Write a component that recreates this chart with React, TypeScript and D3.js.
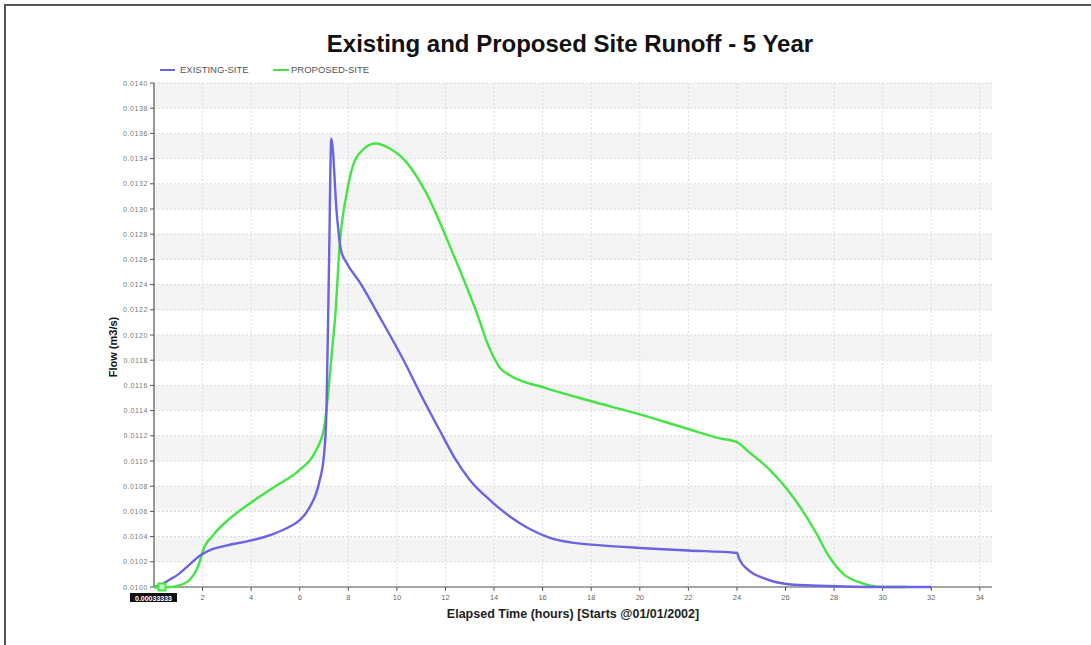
import React from "react";
import * as d3 from "d3";

// Hydrograph: elapsed hours vs flow (m3/s)
const existingHours = [0, 0.2, 0.66, 1.0, 1.36, 1.9, 2.4, 3.0, 4.0, 4.9, 5.6, 6.0, 6.4, 6.8, 7.0, 7.1, 7.2, 7.3, 7.53, 7.7, 7.94, 8.5, 9.3, 9.71, 10.33, 10.95, 11.77, 12.39, 13.0, 13.83, 14.65, 15.47, 16.3, 17.3, 18.4, 20, 22, 24, 24.1, 24.5, 25.1, 26.2, 27.4, 30, 32];
const existingFlow = [0.01, 0.01001, 0.01006, 0.0101, 0.01016, 0.01025, 0.0103, 0.01033, 0.01037, 0.01042, 0.01048, 0.01053, 0.01063, 0.01083, 0.01105, 0.0114, 0.0125, 0.01356, 0.01295, 0.01267, 0.01257, 0.01241, 0.01214, 0.012, 0.01178, 0.01154, 0.01124, 0.01102, 0.01085, 0.01069, 0.01056, 0.01046, 0.01039, 0.01035, 0.01033, 0.01031, 0.01029, 0.01027, 0.01022, 0.01013, 0.01007, 0.01002, 0.01001, 0.01, 0.01];

const proposedHours = [0, 0.7, 1.0, 1.48, 1.9, 2.0, 2.43, 3.1, 4.0, 5.0, 6.0, 6.6, 7.0, 7.16, 7.37, 7.45, 7.65, 7.94, 8.2, 8.6, 9.1, 9.71, 10.4, 11.2, 12.3, 13.3, 13.8, 14.24, 14.65, 16.1, 17.9, 20, 22.06, 23.3, 24, 24.5, 25.35, 26.4, 27.2, 27.8, 28.4, 29, 30, 31];
const proposedFlow = [0.01, 0.01, 0.01001, 0.01006, 0.01021, 0.01028, 0.01041, 0.01054, 0.01067, 0.01080, 0.01093, 0.01106, 0.01126, 0.01152, 0.01196, 0.01212, 0.01273, 0.01313, 0.01335, 0.01347, 0.01352, 0.01348, 0.01337, 0.01313, 0.01265, 0.01217, 0.0119, 0.01174, 0.01168, 0.01158, 0.01148, 0.01137, 0.01125, 0.01118, 0.01115, 0.01107, 0.01093, 0.01069, 0.01045, 0.01024, 0.0101, 0.01004, 0.01, 0.01];

const xTicks = [2, 4, 6, 8, 10, 12, 14, 16, 18, 20, 22, 24, 26, 28, 30, 32, 34];
const yTicks = [0.01, 0.0102, 0.0104, 0.0106, 0.0108, 0.011, 0.0112, 0.0114, 0.0116, 0.0118, 0.012, 0.0122, 0.0124, 0.0126, 0.0128, 0.013, 0.0132, 0.0134, 0.0136, 0.0138, 0.014];

const seriesNames = ["EXISTING-SITE", "PROPOSED-SITE"];
const seriesColors = ["#6b63e2", "#45e445"];

const W = 1091;
const H = 645;

export default function App() {
  const x = d3.scaleLinear().domain([0, 34.5]).range([154, 992]);
  const y = d3.scaleLinear().domain([0.01, 0.014]).range([587, 83]);

  const line = d3
    .line<[number, number]>()
    .x((d) => x(d[0]))
    .y((d) => y(d[1]))
    .curve(d3.curveMonotoneX);

  const existing = existingHours.map((h, i) => [h, existingFlow[i]] as [number, number]);
  const proposed = proposedHours.map((h, i) => [h, proposedFlow[i]] as [number, number]);

  const [x0, x1] = x.range();
  const font = "'Liberation Sans', Arial, sans-serif";

  return (
    <svg
      width={W}
      height={H}
      style={{ position: "absolute", left: 0, top: 0, background: "#fff" }}
      fontFamily={font}
    >
      <rect x={5} y={5} width={W + 20} height={H + 20} fill="none" stroke="#555" strokeWidth={2} />

      <text x={570} y={52} textAnchor="middle" fontSize={24} fontWeight="bold" fill="#111">
        Existing and Proposed Site Runoff - 5 Year
      </text>

      {/* alternating bands */}
      {yTicks.slice(0, -1).map((v, i) =>
        i % 2 === 1 ? (
          <rect key={"b" + i} x={x0} width={x1 - x0} y={y(yTicks[i + 1])} height={y(v) - y(yTicks[i + 1])} fill="#f4f4f4" />
        ) : null
      )}

      {/* grid */}
      {yTicks.map((v) => (
        <line key={"gy" + v} x1={x0} x2={x1} y1={y(v)} y2={y(v)} stroke="#dcdcdc" strokeWidth={1} strokeDasharray="2,2" />
      ))}
      {xTicks.map((t) => (
        <line key={"gx" + t} x1={x(t)} x2={x(t)} y1={y(0.014)} y2={y(0.01)} stroke="#dcdcdc" strokeWidth={1} strokeDasharray="2,2" />
      ))}

      {/* axes */}
      <line x1={x0} x2={x0} y1={y(0.014)} y2={y(0.01)} stroke="#555" strokeWidth={1.2} />
      <line x1={x0} x2={x1} y1={y(0.01)} y2={y(0.01)} stroke="#555" strokeWidth={1.2} />
      {yTicks.map((v) => (
        <g key={"ty" + v}>
          <line x1={x0 - 4} x2={x0} y1={y(v)} y2={y(v)} stroke="#555" />
          <text x={x0 - 6} y={y(v) + 2.5} textAnchor="end" fontSize={7} fill="#777" letterSpacing={0.6}>
            {v.toFixed(4)}
          </text>
        </g>
      ))}
      {xTicks.map((t) => (
        <g key={"tx" + t}>
          <line x1={x(t)} x2={x(t)} y1={y(0.01)} y2={y(0.01) + 4} stroke="#555" />
          <text x={x(t)} y={y(0.01) + 13} textAnchor="middle" fontSize={7.5} fill="#666">
            {t}
          </text>
        </g>
      ))}

      {/* series */}
      <path d={line(proposed) || ""} fill="none" stroke={seriesColors[1]} strokeWidth={2.4} strokeLinejoin="round" />
      <path d={line(existing) || ""} fill="none" stroke={seriesColors[0]} strokeWidth={2.4} strokeLinejoin="round" />

      {/* hovered point */}
      <line x1={x(0)} x2={x(0.33)} y1={y(0.01)} y2={y(0.01)} stroke={seriesColors[1]} strokeWidth={3} />
      <rect x={x(0.33) - 3.5} y={y(0.01) - 3.5} width={7} height={7} fill="#c8f5c8" stroke={seriesColors[1]} strokeWidth={2} />
      <rect x={130} y={593} width={47} height={9} fill="#111" />
      <text x={153.5} y={600.5} textAnchor="middle" fontSize={7} fontWeight="bold" fill="#fff">
        0.00033333
      </text>

      {/* legend */}
      <line x1={160} x2={175} y1={70} y2={70} stroke={seriesColors[0]} strokeWidth={2} />
      <text x={180} y={73} fontSize={9.5} fill="#555">{seriesNames[0]}</text>
      <line x1={273} x2={289} y1={70} y2={70} stroke={seriesColors[1]} strokeWidth={2} />
      <text x={291} y={73} fontSize={9.5} fill="#555">{seriesNames[1]}</text>

      {/* axis titles */}
      <text transform="translate(117,347) rotate(-90)" textAnchor="middle" fontSize={11} fontWeight="bold" fill="#111">
        Flow (m3/s)
      </text>
      <text x={573} y={618} textAnchor="middle" fontSize={12.5} fontWeight="bold" fill="#222">
        Elapsed Time (hours) [Starts @01/01/2002]
      </text>
    </svg>
  );
}
